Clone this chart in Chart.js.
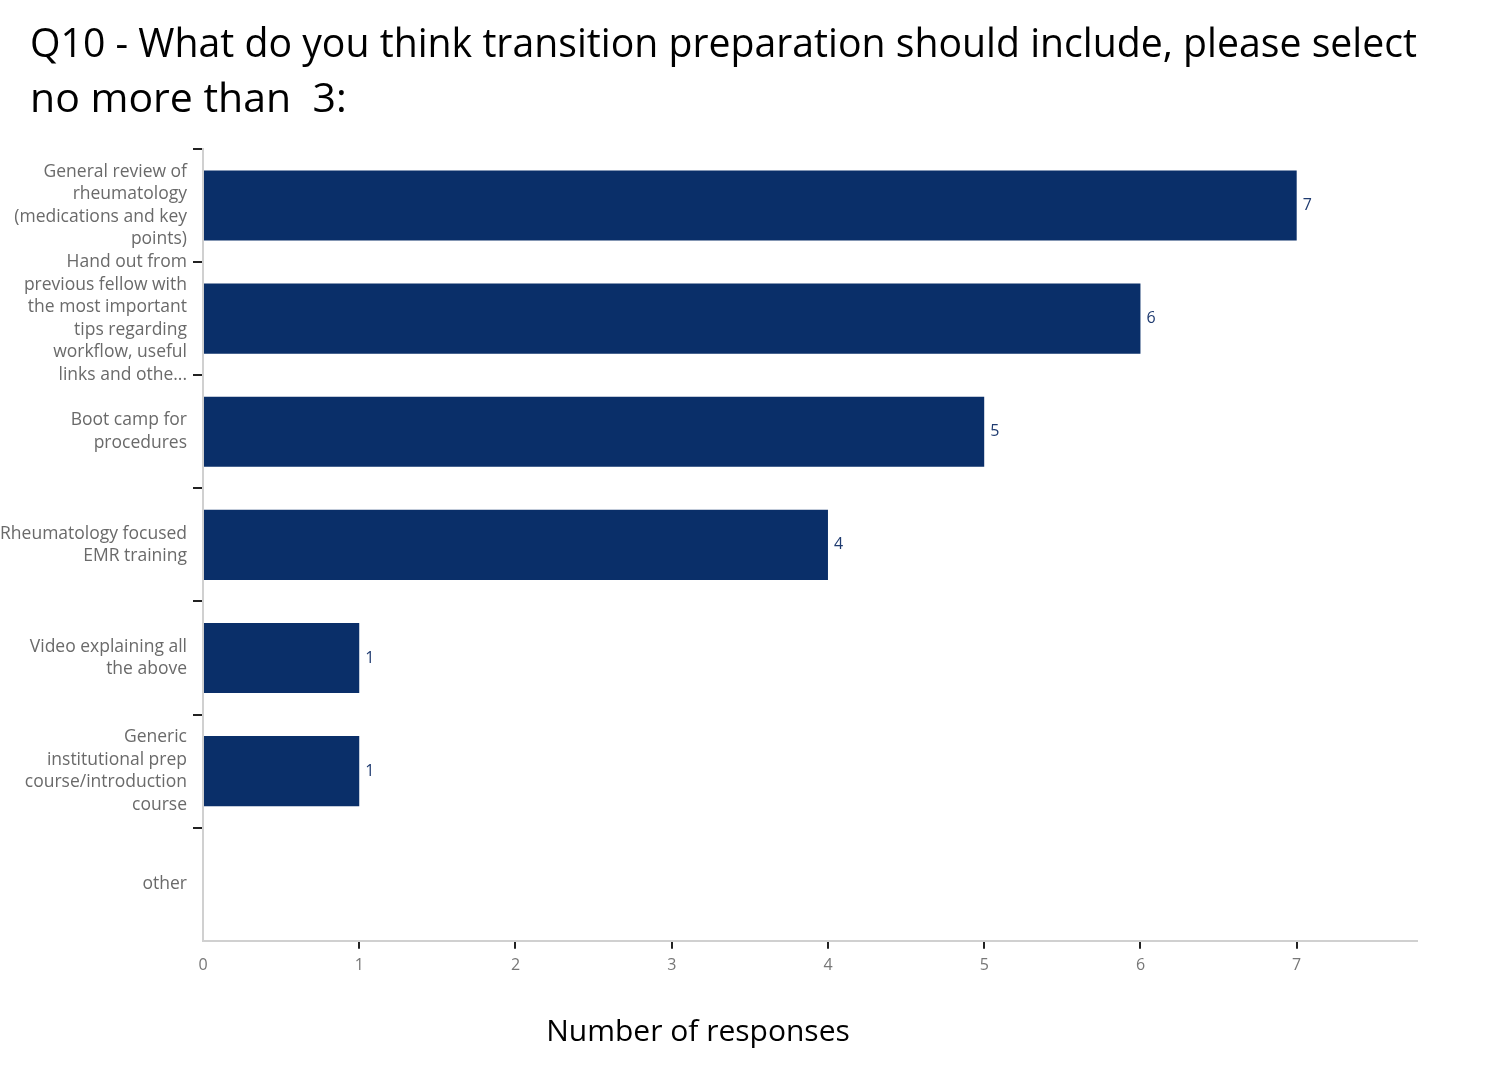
<!DOCTYPE html>
<html>
<head>
<meta charset="utf-8">
<script src="https://cdn.jsdelivr.net/npm/chart.js@4.4.1/dist/chart.umd.min.js"></script>
<style>
  html, body { margin: 0; padding: 0; background: #fff; }
  #wrap { width: 1486px; height: 1077px; position: relative; }
</style>
</head>
<body>
<div id="wrap"><canvas id="c"></canvas></div>
<script>
const titleLines = [
  "Q10 - What do you think transition preparation should include, please select",
  "no more than  3:"
];
const categories = [
  ["General review of", "rheumatology", "(medications and key", "points)"],
  ["Hand out from", "previous fellow with", "the most important", "tips regarding", "workflow, useful", "links and othe..."],
  ["Boot camp for", "procedures"],
  ["Rheumatology focused", "EMR training"],
  ["Video explaining all", "the above"],
  ["Generic", "institutional prep", "course/introduction", "course"],
  ["other"]
];
const responses = [7, 6, 5, 4, 1, 1, null];
const xTicks = [0, 1, 2, 3, 4, 5, 6, 7];
const xAxisTitle = "Number of responses";

const valueLabels = {
  id: 'valueLabels',
  afterDatasetsDraw(chart) {
    const ctx = chart.ctx;
    const meta = chart.getDatasetMeta(0);
    ctx.save();
    ctx.font = '16px "Open Sans", sans-serif';
    ctx.fillStyle = '#1f3b70';
    ctx.textAlign = 'left';
    ctx.textBaseline = 'middle';
    meta.data.forEach((bar, i) => {
      const v = responses[i];
      if (v === null || v === undefined) return;
      ctx.fillText(String(v), bar.x + 6, bar.y);
    });
    ctx.restore();
  }
};

const bottomTitle = {
  id: 'bottomTitle',
  afterDraw(chart) {
    const ctx = chart.ctx;
    ctx.save();
    ctx.font = '30px "Open Sans", sans-serif';
    ctx.fillStyle = '#000';
    ctx.textAlign = 'center';
    ctx.textBaseline = 'middle';
    ctx.fillText(xAxisTitle, 698, 1032);
    ctx.restore();
  }
};

// let the long left labels run past the layout padding (reference crops them at the page edge)
const widenLabelArea = {
  id: 'widenLabelArea',
  afterLayout(chart) {
    const y = chart.scales.y;
    y.width = y.right;
    y.left = 0;
  }
};

new Chart(document.getElementById('c'), {
  type: 'bar',
  data: {
    labels: categories,
    datasets: [{
      data: responses,
      backgroundColor: '#0a2f69',
      borderWidth: 0,
      categoryPercentage: 1.0,
      barPercentage: 0.62
    }]
  },
  options: {
    indexAxis: 'y',
    responsive: true,
    maintainAspectRatio: false,
    animation: false,
    layout: { padding: { top: 18, right: 69, bottom: 95, left: 30 } },
    plugins: {
      legend: { display: false },
      tooltip: { enabled: false },
      title: {
        display: true,
        text: titleLines,
        align: 'start',
        color: '#000',
        font: { family: '"Open Sans", sans-serif', size: 41, weight: 'normal', lineHeight: 1.341 },
        padding: { top: 0, bottom: 21 }
      }
    },
    scales: {
      x: {
        type: 'linear',
        min: 0,
        max: 7.77,
        afterBuildTicks(scale) {
          scale.ticks = xTicks.map(v => ({ value: v }));
        },
        grid: {
          drawOnChartArea: false,
          drawTicks: true,
          tickLength: 8,
          color: (c) => (c.tick && c.tick.value !== 0) ? '#222' : 'rgba(0,0,0,0)',
          lineWidth: 2
        },
        border: { display: true, color: '#d0d0d0', width: 2 },
        ticks: {
          padding: 7,
          color: '#777',
          font: { family: '"Open Sans", sans-serif', size: 16 }
        }
      },
      y: {
        type: 'category',
        offset: true,
        afterFit(scale) { scale.width = 173; },
        grid: {
          offset: true,
          drawOnChartArea: false,
          drawTicks: true,
          tickLength: 10,
          color: (c) => (c.tick ? '#222' : 'rgba(0,0,0,0)'),
          lineWidth: 2
        },
        border: { display: true, color: '#d0d0d0', width: 2 },
        ticks: {
          padding: 6,
          color: '#6a6a6a',
          autoSkip: false,
          font: { family: '"Open Sans", sans-serif', size: 17.5, lineHeight: 1.286 }
        }
      }
    }
  },
  plugins: [valueLabels, bottomTitle, widenLabelArea]
});
</script>
</body>
</html>
